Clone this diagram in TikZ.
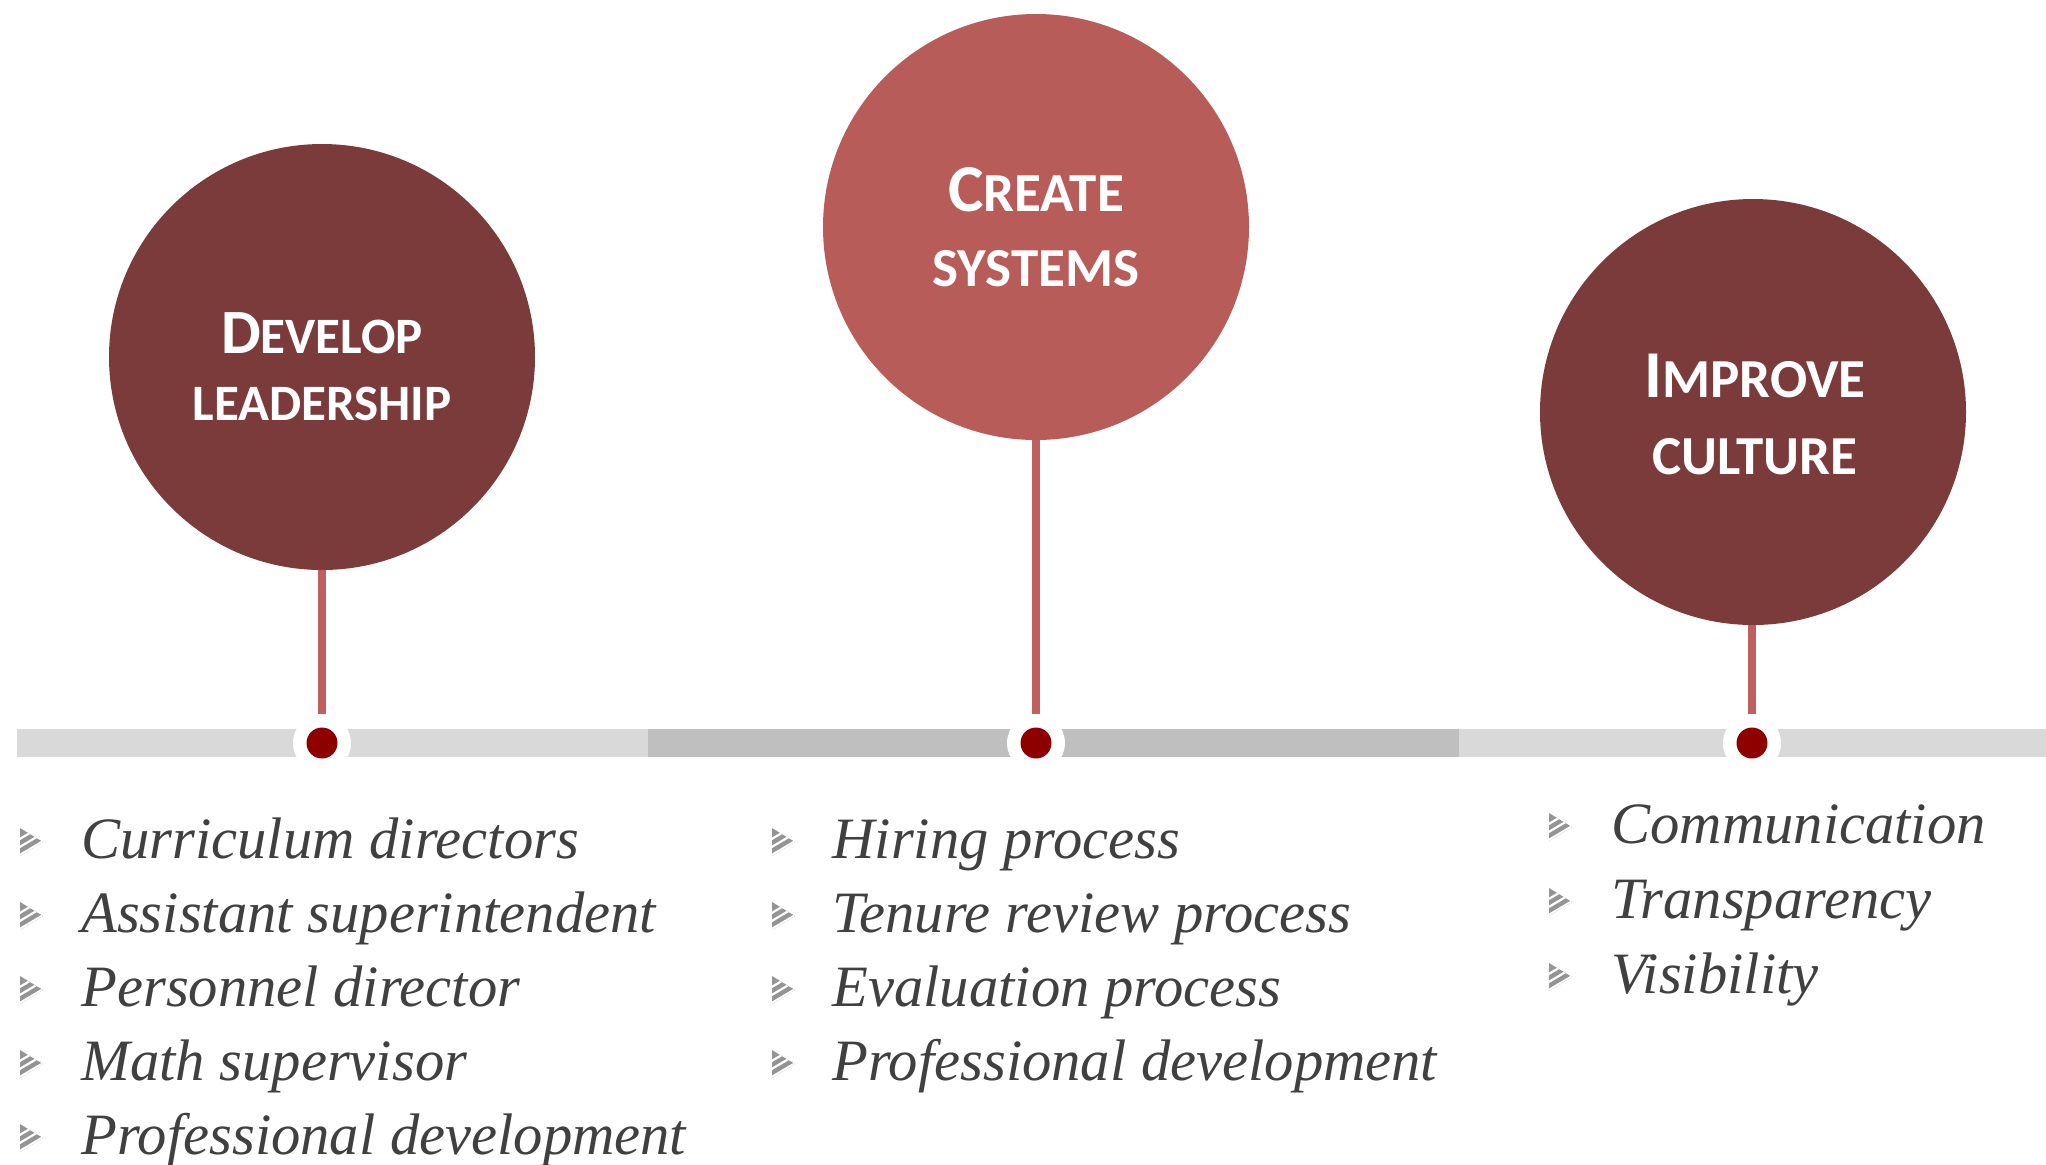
\documentclass[tikz,border=0pt]{standalone}
\usepackage{fontspec}
\newfontfamily\itemfont{Liberation Serif}
\newfontfamily\titlefont{Carlito}
\definecolor{darkcirc}{RGB}{123,59,59}
\definecolor{midcirc}{RGB}{184,92,90}
\definecolor{stemcol}{RGB}{192,96,94}
\definecolor{barlight}{RGB}{217,217,217}
\definecolor{bardark}{RGB}{191,191,191}
\definecolor{dotred}{RGB}{142,0,0}
\definecolor{txtgray}{RGB}{64,64,64}
\definecolor{bulgray}{RGB}{148,148,148}
\begin{document}
\begin{tikzpicture}[x=0.5pt,y=-0.5pt,
  circ/.style={circle,minimum size=213pt,inner sep=0pt,draw=none},
  ttl/.style={text=white,font=\titlefont\bfseries,anchor=base,inner sep=0pt},
  stem/.style={draw=stemcol,line width=4pt},
  ring/.style={circle,fill=white,minimum size=29pt,inner sep=0pt},
  dotn/.style={circle,fill=dotred,minimum size=15.5pt,inner sep=0pt},
  item/.style={anchor=base west,inner sep=0pt,text=txtgray,font=\itemfont\itshape\fontsize{29.3}{36}\selectfont},
  bul/.pic={
    \fill[bulgray] (0,-14) -- (23,0) -- (0,14) -- cycle;
    \begin{scope}
      \clip (0,-14) -- (23,0) -- (0,14) -- cycle;
      \foreach \d in {-9,-1,7}
        \draw[white,line width=1.1pt] (-2,\d+7) -- (25,\d-9);
    \end{scope}
  }]
\useasboundingbox (0,0) rectangle (2046,1164);
\fill[white] (0,0) rectangle (2046,1164);
% bar
\fill[barlight] (17,729) rectangle (648,757);
\fill[bardark] (648,729) rectangle (1459,757);
\fill[barlight] (1459,729) rectangle (2046,757);
% circles
\node[circ,fill=darkcirc] (c1) at (322,357) {};
\node[circ,fill=midcirc] (c2) at (1036,227) {};
\node[circ,fill=darkcirc] (c3) at (1753,412) {};
% rings and dots
\node[ring] (r1) at (322,743) {};
\node[ring] (r2) at (1036,743) {};
\node[ring] (r3) at (1752,743) {};
\node[dotn] (d1) at (r1) {};
\node[dotn] (d2) at (r2) {};
\node[dotn] (d3) at (r3) {};
% stems
\draw[stem] (c1.south) -- (r1.north);
\draw[stem] (c2.south) -- (r2.north);
\draw[stem] (c3.south -| r3) -- (r3.north);
% titles
\newcommand\bigc[1]{{\fontsize{31.5}{36}\selectfont #1}}
\newcommand\smc[1]{{\fontsize{25.5}{30}\selectfont #1}}
\newcommand\bigd[1]{{\fontsize{33.5}{36}\selectfont #1}}
\newcommand\smd[1]{{\fontsize{27.5}{30}\selectfont #1}}
\node[ttl] (t1a) at (322,353) {\bigc{D}\smc{EVELOP}};
\node[ttl] (t1b) at (322,420) {\smc{LEADERSHIP}};
\node[ttl] (t2a) at (1036,211) {\bigd{C}\smd{REATE}};
\node[ttl] (t2b) at (1036,286) {\smd{SYSTEMS}};
\node[ttl] (t3a) at (1755,397) {\bigd{I}\smd{MPROVE}};
\node[ttl] (t3b) at (1755,474) {\smd{CULTURE}};
% left list
\foreach \y/\t/\n in {858/Curriculum directors/a,932/Assistant superintendent/b,1006/Personnel director/c,1080/Math supervisor/d,1154/Professional development/e}{
  \pic at (20,\y-16) {bul};
  \node[item] (L\n) at (81,\y) {\t};
}
% middle list
\foreach \y/\t/\n in {858/Hiring process/a,932/Tenure review process/b,1006/Evaluation process/c,1080/Professional development/d}{
  \pic at (772,\y-16) {bul};
  \node[item] (M\n) at (832,\y) {\t};
}
% right list
\foreach \y/\t/\n in {843/Communication/a,918/Transparency/b,993/Visibility/c}{
  \pic at (1549,\y-16) {bul};
  \node[item] (R\n) at (1611,\y) {\t};
}
\end{tikzpicture}
\end{document}
